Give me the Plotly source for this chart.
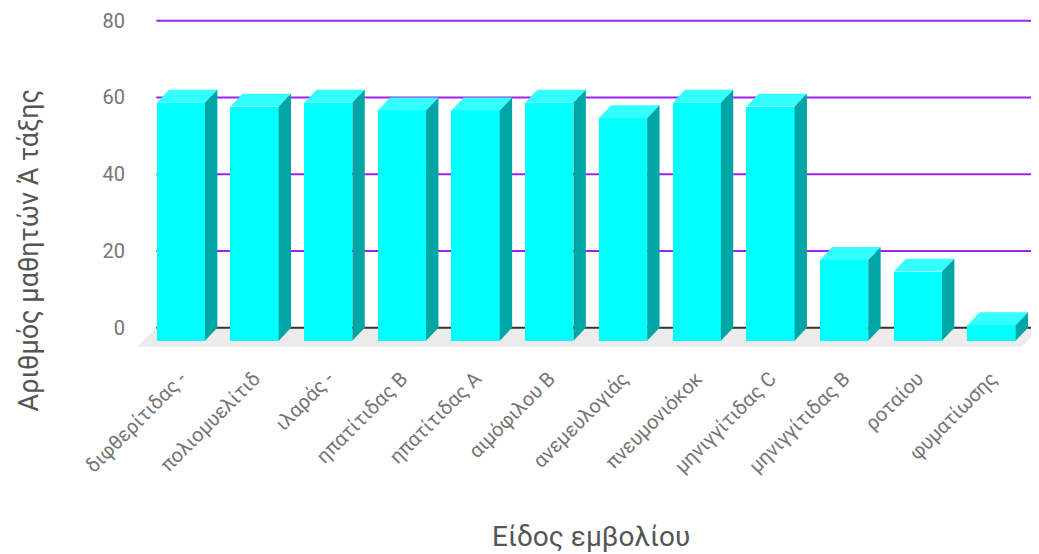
import plotly.graph_objects as go

# ---- data ----
categories = ["διφθερίτιδας -", "πολιομυελίτιδ", "ιλαράς -", "ηπατίτιδας Β",
              "ηπατίτιδας Α", "αιμόφιλου Β", "ανεμευλογιάς", "πνευμονιόκοκ",
              "μηνιγγίτιδας C", "μηνιγγίτιδας Β", "ροταίου", "φυματίωσης"]
values = [62, 61, 62, 60, 60, 62, 58, 62, 61, 21, 18, 4]
y_ticks = [0, 20, 40, 60, 80]
y_title = "Αριθμός μαθητών Ά τάξης"
x_title = "Είδος εμβολίου"

# ---- style / geometry (pseudo-3D) ----
FRONT = "#00FFFF"
TOP = "#33FFFF"
SIDE = "#00A6A6"
GRID = "#A020F0"
FLOOR = "#ECECEC"
BAR_W = 0.655          # bar width in category units
DX = 0.168             # depth offset (category units)
DY = 3.38              # depth offset (value units)
FDX, FDY = 0.258, 4.95 # floor depth
X_RANGE = [-0.749, 11.476]
Y_RANGE = [-5.81, 81.49]
LABEL_SHIFT = 0.17

n = len(categories)
idx = list(range(n))
front_x = [i - DX for i in idx]

fig = go.Figure()

# front faces
fig.add_trace(go.Bar(x=front_x, y=values, base=[-DY] * n, width=BAR_W,
                     marker=dict(color=FRONT, line=dict(width=0)),
                     hoverinfo="skip", showlegend=False))

# top and side faces, derived from the values
tx, ty, sx, sy = [], [], [], []
for fx, v in zip(front_x, values):
    xl, xr = fx - BAR_W / 2, fx + BAR_W / 2
    yt = v - DY
    tx += [xl, xl + DX, xr + DX, xr, xl, None]
    ty += [yt, v, v, yt, yt, None]
    sx += [xr, xr + DX, xr + DX, xr, xr, None]
    sy += [yt, v, 0, -DY, yt, None]

fig.add_trace(go.Scatter(x=tx, y=ty, mode="lines", fill="toself", fillcolor=TOP,
                         line=dict(width=0, color=TOP), hoverinfo="skip",
                         showlegend=False))
fig.add_trace(go.Scatter(x=sx, y=sy, mode="lines", fill="toself", fillcolor=SIDE,
                         line=dict(width=0, color=SIDE), hoverinfo="skip",
                         showlegend=False))

shapes = []
# floor
x0b, x1b = -0.5, n - 0.5
shapes.append(dict(type="path", xref="x", yref="y", layer="below",
                   path=f"M {x0b},0 L {x1b},0 L {x1b - FDX},{-FDY} L {x0b - FDX},{-FDY} Z",
                   fillcolor=FLOOR, line=dict(width=0)))
# gridlines on the back wall
for t in y_ticks:
    shapes.append(dict(type="line", xref="x", yref="y", layer="below",
                       x0=x0b, x1=x1b, y0=t, y1=t,
                       line=dict(color="#333333" if t == 0 else GRID, width=2)))

fig.update_layout(
    width=1031, height=546,
    margin=dict(l=130, r=0, t=7, b=204),
    paper_bgcolor="white", plot_bgcolor="white",
    font=dict(family="Roboto, Open Sans, sans-serif", color="#757575"),
    shapes=shapes,
    bargap=0,
    xaxis=dict(range=X_RANGE, tickvals=[i - LABEL_SHIFT for i in idx],
               ticktext=categories, tickangle=-45,
               showgrid=False, zeroline=False, showline=False, ticks="",
               tickfont=dict(size=20, color="#757575"), ticklabelstandoff=12),
    yaxis=dict(range=Y_RANGE, tickvals=y_ticks, showgrid=False, zeroline=False,
               showline=False, ticks="", tickfont=dict(size=20, color="#757575"),
               ticklabelstandoff=12),
    annotations=[
        dict(text=x_title, xref="paper", yref="paper", x=0.503, y=-0.558,
             xanchor="center", yanchor="middle", showarrow=False,
             font=dict(size=28, color="#555555")),
        dict(text=y_title, xref="paper", yref="paper", x=-0.12, y=0.30,
             xanchor="center", yanchor="middle", textangle=-90, showarrow=False,
             font=dict(size=27, color="#555555")),
    ],
)

fig.write_html("out.html")
